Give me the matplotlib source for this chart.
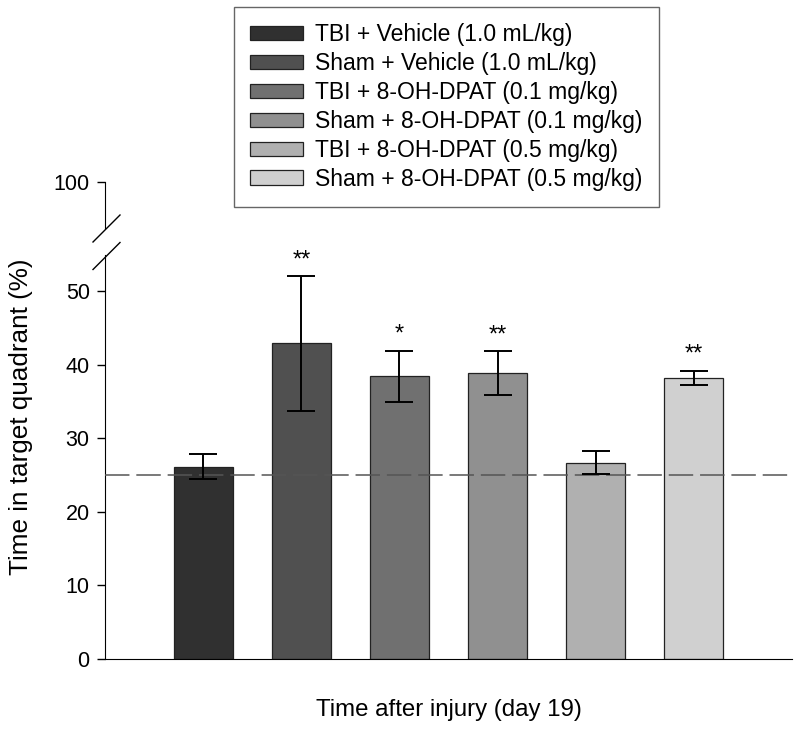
import numpy as np
import matplotlib as mpl
mpl.use("Agg")
from matplotlib import pyplot as plt
from matplotlib.lines import Line2D
from matplotlib.patches import Patch

plt.rcParams['font.family'] = ['Liberation Sans', 'DejaVu Sans']

# 数据
groups = ["TBI + Vehicle (1.0 mL/kg)", "Sham + Vehicle (1.0 mL/kg)",
          "TBI + 8-OH-DPAT (0.1 mg/kg)", "Sham + 8-OH-DPAT (0.1 mg/kg)",
          "TBI + 8-OH-DPAT (0.5 mg/kg)", "Sham + 8-OH-DPAT (0.5 mg/kg)"]
means = [26.1, 42.9, 38.4, 38.85, 26.7, 38.2]
sems = [1.7, 9.15, 3.5, 2.95, 1.5, 1.0]
stars = ["", "**", "*", "**", "", "**"]
colors = ["#303030", "#505050", "#707070", "#909090", "#b0b0b0", "#d0d0d0"]
chance = 25

W, H = 800, 736
fig = plt.figure(figsize=(W / 100, H / 100), dpi=100)

# 下半部分 (0-55) 和上半部分 (100)
ax = fig.add_axes([105 / W, 1 - 659 / H, (792 - 105) / W, (659 - 255) / H])
ax_top = fig.add_axes([105 / W, 1 - 228 / H, (792 - 105) / W, (228 - 182) / H])

x = np.arange(len(means))
ax.bar(x, means, width=0.6, color=colors, edgecolor="#222222", linewidth=0.9, zorder=2)
ax.errorbar(x, means, yerr=sems, fmt="none", ecolor="black", elinewidth=1.4,
            capsize=10, capthick=1.4, zorder=4)
ax.axhline(chance, color="#555555", lw=1.1, ls=(0, (16, 4.5)), zorder=3)

for i in range(len(means)):
    if stars[i]:
        ax.annotate(stars[i], (x[i], means[i] + sems[i]), xytext=(0, 7),
                    textcoords="offset points", ha="center", va="baseline",
                    fontsize=17)

ax.set_xlim(-1, 6)
ax.set_ylim(0, 54.9)
ax.set_yticks([0, 10, 20, 30, 40, 50])
ax.set_xticks([])
ax.spines["top"].set_visible(False)
ax.spines["right"].set_visible(False)
ax.tick_params(axis="y", direction="out", length=6, width=1, labelsize=15.5, pad=5)
ax.set_xlabel("Time after injury (day 19)", fontsize=17.3, labelpad=29)

ax_top.set_xlim(-1, 6)
ax_top.set_ylim(90, 100)
ax_top.set_yticks([100])
ax_top.set_xticks([])
for s in ["top", "right", "bottom"]:
    ax_top.spines[s].set_visible(False)
ax_top.patch.set_visible(False)
ax_top.tick_params(axis="y", direction="out", length=6, width=1, labelsize=15.5, pad=5)

# 断轴标记
for yc in [228.5, 256]:
    fig.add_artist(Line2D([93 / W, 120 / W], [1 - (yc + 13.5) / H, 1 - (yc - 13.5) / H],
                          color="black", lw=1, transform=fig.transFigure))

fig.text(21 / W, 1 - 417 / H, "Time in target quadrant (%)", rotation=90,
         ha="center", va="center", fontsize=18.8)

handles = [Patch(facecolor=c, edgecolor="#222222", linewidth=0.9) for c in colors]
leg = fig.legend(handles, groups, loc="upper left", bbox_to_anchor=(234 / W, 1 - 7 / H),
                 fontsize=16.5, frameon=True, fancybox=False, edgecolor="#404040",
                 handlelength=2.3, handleheight=0.6, handletextpad=0.55,
                 labelspacing=0.26, borderpad=0.7, borderaxespad=0)
leg.get_frame().set_linewidth(1)

fig.savefig("out.png", dpi=100)
